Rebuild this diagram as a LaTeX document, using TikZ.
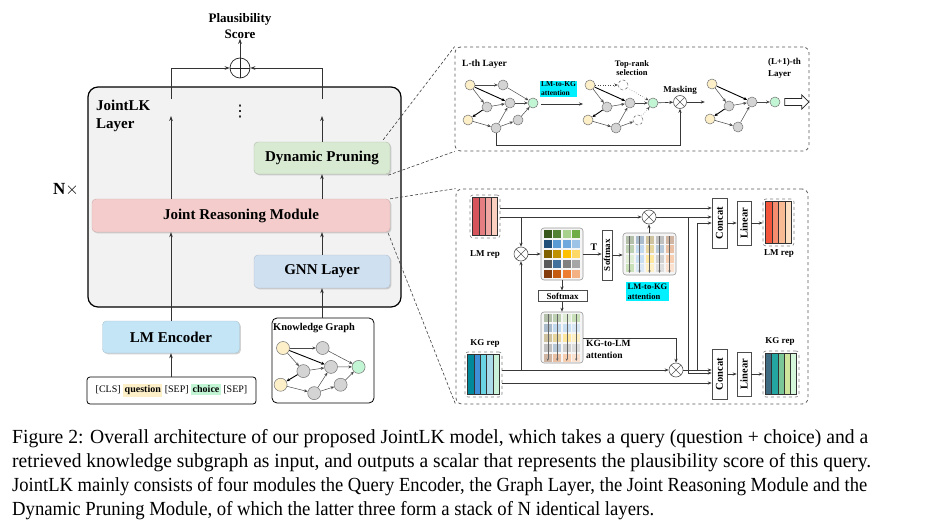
\documentclass[tikz,border=0pt]{standalone}
\usepackage{graphicx}
\usepackage{fontspec}
\setmainfont{Liberation Serif}
\newfontfamily\dejavu{DejaVu Sans}
\usetikzlibrary{arrows.meta,shadows,shapes.arrows}
\definecolor{layerbg}{HTML}{F2F2F2}
\definecolor{dpcol}{HTML}{D9EAD3}
\definecolor{jrmcol}{HTML}{F4CCCC}
\definecolor{gnncol}{HTML}{CFE0F1}
\definecolor{lmecol}{HTML}{C4E5F6}
\definecolor{ycol}{HTML}{FDEFC8}
\definecolor{gcol}{HTML}{C2F5D3}
\definecolor{hlcyan}{HTML}{00F0FF}
\definecolor{m11}{HTML}{38571A}\definecolor{m12}{HTML}{548235}\definecolor{m13}{HTML}{A9D18E}\definecolor{m14}{HTML}{70AD47}
\definecolor{m21}{HTML}{1F4E79}\definecolor{m22}{HTML}{5B9BD5}\definecolor{m23}{HTML}{6FA8DC}\definecolor{m24}{HTML}{9DC3E6}
\definecolor{m31}{HTML}{7F6000}\definecolor{m32}{HTML}{BF9000}\definecolor{m33}{HTML}{FFC000}\definecolor{m34}{HTML}{FFD966}
\definecolor{m41}{HTML}{595959}\definecolor{m42}{HTML}{41719C}\definecolor{m43}{HTML}{808080}\definecolor{m44}{HTML}{A6A6A6}
\definecolor{m51}{HTML}{843C0C}\definecolor{m52}{HTML}{C55A11}\definecolor{m53}{HTML}{ED7D31}\definecolor{m54}{HTML}{F4B183}
\definecolor{la1}{HTML}{D6545C}\definecolor{la2}{HTML}{E47E80}\definecolor{la3}{HTML}{F0A6A3}\definecolor{la4}{HTML}{FBCFC0}
\definecolor{lb1}{HTML}{F4563C}\definecolor{lb2}{HTML}{F68D6E}\definecolor{lb3}{HTML}{F9BB93}\definecolor{lb4}{HTML}{FDE0C2}
\definecolor{ka1}{HTML}{00899A}\definecolor{ka2}{HTML}{3F8FD6}\definecolor{ka3}{HTML}{6BD4E2}\definecolor{ka4}{HTML}{A9DCE8}\definecolor{ka5}{HTML}{C9F2D8}
\definecolor{kb1}{HTML}{3E6B82}\definecolor{kb2}{HTML}{23A5A2}\definecolor{kb3}{HTML}{7BC696}\definecolor{kb4}{HTML}{CFE59C}\definecolor{kb5}{HTML}{D4F7DA}
\newcommand{\capfont}{\fontsize{20}{24}\selectfont}
\tikzset{
  arr/.style={draw=black!80, line width=0.7pt, -{Stealth[length=5pt,width=3.6pt]}},
  sarr/.style={draw=black!78, line width=0.6pt, -{Stealth[length=4pt,width=3.2pt]}},
  marr/.style={draw=black!60, line width=0.45pt, -{Stealth[length=2.6pt,width=2.2pt]}},
  mbox/.style={rounded corners=4pt, inner sep=0pt, font=\bfseries\fontsize{15}{18}\selectfont,
    drop shadow={shadow xshift=1.3pt, shadow yshift=-1.3pt, opacity=0.35}},
  sbox/.style={draw=black!70, fill=white, line width=0.6pt, inner sep=0pt, font=\bfseries\fontsize{10}{12}\selectfont},
  repo/.style={draw=black!50, dashed, rounded corners=3pt, line width=0.6pt, inner sep=0pt},
  bar/.style={draw=black!80, line width=0.5pt},
  dcon/.style={draw=black!75, line width=0.6pt, dash pattern=on 3pt off 2pt},
  gn/.style={circle, draw=black!55, fill=black!17, minimum size=10pt, inner sep=0pt, line width=0.5pt},
  yn/.style={gn, fill=ycol},
  cn/.style={gn, fill=gcol},
  pn/.style={gn, fill=white, densely dashed},
  ge/.style={draw=black!72, line width=0.5pt, -{Stealth[length=3.5pt,width=3pt]}},
  geb/.style={ge, draw=black, line width=0.9pt},
  ox/.style={circle, draw=black!65, fill=white, minimum size=14pt, inner sep=0pt, line width=0.6pt,
    path picture={\draw[black!65, line width=0.6pt] (path picture bounding box.north west) -- (path picture bounding box.south east)
      (path picture bounding box.north east) -- (path picture bounding box.south west);}},
  oplus/.style={circle, draw=black!85, fill=white, minimum size=20pt, inner sep=0pt, line width=0.7pt,
    path picture={\draw[black!85, line width=0.7pt] (path picture bounding box.north) -- (path picture bounding box.south)
      (path picture bounding box.east) -- (path picture bounding box.west);}},
  mat/.style={draw=black!40, fill=black!4, rounded corners=3pt, line width=0.6pt, inner sep=0pt},
  hl/.style={fill=hlcyan, inner sep=1.2pt, align=left}
}
\newcommand{\coregraph}[1]{%
  \node[yn] (#1y1) at (0,0) {};
  \node[gn] (#1g2) at (17,22) {};
  \node[gn] (#1g3) at (40,18) {};
  \node[cn] (#1c) at (63,18) {};
  \node[yn] (#1y2) at (-2,35) {};
  \node[gn] (#1g4) at (26,43) {};
  \draw[ge] (#1y1) -- (#1g2);
  \draw[geb] (#1y1) -- (#1g3);
  \draw[ge] (#1g2) -- (#1g3);
  \draw[ge] (#1g3) -- (#1c);
  \draw[geb] (#1g2) -- (#1y2);
  \draw[ge] (#1y2) -- (#1g4);
  \draw[ge] (#1g4) -- (#1g3);
}
\begin{document}
\begin{tikzpicture}[x=1pt,y=-1pt]
\fill[white] (0,0) rectangle (931,527);
\useasboundingbox (0,0) rectangle (931,527);

% ================= left part =================
\node[draw=black, fill=layerbg, rounded corners=10pt, line width=1.2pt, minimum width=313, minimum height=220, inner sep=0] (layer) at (244.5,197) {};
\node[anchor=north west, align=left, inner sep=0, font=\bfseries\fontsize{15}{18}\selectfont] (ltitle) at (96,100) {JointLK\\Layer};
\node[inner sep=0, font=\dejavu\fontsize{16}{18}\selectfont] (vd) at (240,112) {⋮};
\node[font=\bfseries\fontsize{17}{20}\selectfont] (nx) at (66,190) {N$\times$};

\node[mbox, fill=dpcol, draw=dpcol!80!black, minimum width=136, minimum height=32] (dp) at (322,158) {Dynamic Pruning};
\node[mbox, fill=jrmcol, draw=jrmcol!85!black, minimum width=298, minimum height=33] (jrm) at (241,215.5) {Joint Reasoning Module};
\node[mbox, fill=gnncol, draw=gnncol!85!black, minimum width=136, minimum height=33] (gnn) at (322,271.5) {GNN Layer};
\node[mbox, fill=lmecol, draw=lmecol!85!black, minimum width=137, minimum height=32] (lme) at (171,337) {LM Encoder};
\node[draw=black, rounded corners=3pt, line width=0.8pt, fill=white, minimum width=169, minimum height=27, inner sep=0, font=\fontsize{10}{12}\selectfont] (inp) at (171.5,390.5)
  {[CLS] {\setlength\fboxsep{1.5pt}\colorbox{ycol}{\bfseries question}} [SEP] {\setlength\fboxsep{1.5pt}\colorbox{gcol}{\bfseries choice}} [SEP]};
\node[draw=black, rounded corners=5pt, line width=0.8pt, fill=white, minimum width=102, minimum height=85, inner sep=0] (kg) at (323,360.5) {};
\node[anchor=west, inner sep=0, font=\bfseries\fontsize{10.4}{12}\selectfont] (kgt) at (273,328) {Knowledge Graph};
\begin{scope}[shift={(283,348)}, xscale=1.2, yscale=1.05, gn/.append style={minimum size=13pt}]
  \coregraph{k}
  \node[gn] (kg1) at (33,0) {};
  \node[gn] (kg5) at (48,35) {};
  \draw[ge] (ky1) -- (kg1); \draw[ge] (kg1) -- (kc); \draw[ge] (kg4) -- (kg5); \draw[ge] (kg5) -- (kc);
\end{scope}

\node[font=\bfseries\fontsize{13}{16}\selectfont, align=center, inner sep=0] (ps) at (240,26) {Plausibility\\Score};
\node[oplus] (plus) at (240,68) {};
\coordinate (lt) at (171,99);
\coordinate (rt) at (322,99);
\coordinate (la) at (171,116);
\coordinate (ra) at (322,116);
\draw[arr] (plus.north) -- (ps.south);
\draw[arr] (lt) |- (plus.west);
\draw[arr] (rt) |- (plus.east);
\draw[arr] (inp.north -| lme) -- (lme.south);
\draw[arr] (lme.north) -- (lme.north |- jrm.south);
\draw[arr] (jrm.north -| la) -- (la);
\draw[arr] (kg.north -| gnn) -- (gnn.south);
\draw[arr] (gnn.north) -- (gnn.north |- jrm.south);
\draw[arr] (jrm.north -| dp) -- (dp.south);
\draw[arr] (dp.north) -- (ra);

% ================= panels =================
\node[draw=black!65, dashed, rounded corners=6pt, line width=0.8pt, minimum width=354, minimum height=104, inner sep=0] (tp) at (632,99) {};
\node[draw=black!65, dashed, rounded corners=6pt, line width=0.8pt, minimum width=352, minimum height=215, inner sep=0] (bp) at (632,296.5) {};
\draw[dcon] ([shift={(-7,-2)}]dp.north east) -- (tp.north west);
\draw[dcon] ([shift={(-2,1)}]dp.south east) -- (tp.south west);
\draw[dcon] (jrm.north east) -- (bp.north west);
\draw[dcon] ([shift={(-2,1)}]jrm.south east) -- (bp.south west);

% ================= top panel =================
\node[anchor=west, inner sep=0, font=\bfseries\fontsize{9.5}{11}\selectfont] (lth) at (462,64) {L-th Layer};
\begin{scope}[shift={(470,85)}]
  \coregraph{a}
  \node[gn] (ag1) at (33,0) {};
  \node[gn] (ag5) at (48,35) {};
  \draw[ge] (ay1) -- (ag1); \draw[ge] (ag1) -- (ac); \draw[ge] (ag4) -- (ag5); \draw[ge] (ag5) -- (ac);
\end{scope}
\node[hl, font=\bfseries\fontsize{7.5}{9}\selectfont] (lkatt) at (558.5,89) {LM-to-KG\\attention};
\coordinate (t1s) at (541,104);
\coordinate (t1e) at (583,104);
\draw[sarr] (t1s) -- (t1e);
\begin{scope}[shift={(590,85)}]
  \coregraph{b}
  \node[pn] (bg1) at (33,0) {};
  \node[pn] (bg5) at (48,35) {};
  \draw[ge, dotted] (by1) -- (bg1); \draw[ge, dotted] (bg1) -- (bc); \draw[ge] (bg4) -- (bg5); \draw[ge, dotted] (bg5) -- (bc);
\end{scope}
\node[align=center, inner sep=0, font=\bfseries\fontsize{8.5}{9.5}\selectfont] (topr) at (632,68) {Top-rank\\selection};
\node[inner sep=0, font=\bfseries\fontsize{9}{11}\selectfont] (mask) at (680,90) {Masking};
\node[ox, minimum size=13pt] (oxT) at (680,102) {};
\begin{scope}[shift={(712,84)}]
  \coregraph{c}
\end{scope}
\draw[sarr] (bc) -- (oxT);
\draw[sarr] (oxT.east) -- (cy2.west |- oxT);
\draw[sarr] (ag4.south) -- ++(0,12) -| (oxT.south);
\node[anchor=north west, align=left, inner sep=0, font=\bfseries\fontsize{9}{12}\selectfont] (lp1) at (768,58) {(L+1)-th\\Layer};
\node[single arrow, draw=black!85, fill=white, minimum height=24pt, text height=3.2pt, text depth=3.2pt, text width=0pt, single arrow head extend=3.5pt, inner sep=0pt, line width=0.7pt] (hol) at (795,102) {};

% ================= bottom panel =================
\node[repo, minimum width=30, minimum height=43] (lmL) at (485,216.5) {};
\foreach \c [count=\i] in {la1,la2,la3,la4} \filldraw[bar, fill=\c] ({472.5+6.25*(\i-1)},197.5) rectangle ++(6.25,38);
\node[inner sep=0, font=\bfseries\fontsize{9}{11}\selectfont] (lmLt) at (485,255) {LM rep};
\node[repo, minimum width=31, minimum height=47] (lmR) at (778.5,222.5) {};
\foreach \c [count=\i] in {lb1,lb2,lb3,lb4} \filldraw[bar, fill=\c] ({765.5+6.5*(\i-1)},201.5) rectangle ++(6.5,42);
\node[inner sep=0, font=\bfseries\fontsize{9}{11}\selectfont] (lmRt) at (779,254) {LM rep};
\node[repo, minimum width=37, minimum height=45] (kgL) at (483.5,374.5) {};
\foreach \c [count=\i] in {ka1,ka2,ka3,ka4,ka5} \filldraw[bar, fill=\c] ({467.5+6.4*(\i-1)},354.5) rectangle ++(6.4,40);
\node[inner sep=0, font=\bfseries\fontsize{9}{11}\selectfont] (kgLt) at (485,343) {KG rep};
\node[repo, minimum width=36, minimum height=46] (kgR) at (781,374) {};
\foreach \c [count=\i] in {kb1,kb2,kb3,kb4,kb5} \filldraw[bar, fill=\c] ({765.5+6.2*(\i-1)},353.5) rectangle ++(6.2,41);
\node[inner sep=0, font=\bfseries\fontsize{9}{11}\selectfont] (kgRt) at (780,341) {KG rep};

\node[mat, minimum width=42, minimum height=52] (mt) at (562,254) {};
\foreach \ii in {1,...,5} \foreach \jj in {1,...,4}
  \fill[m\ii\jj] ({562+(\jj-2.5)*9.5-4},{254+(\ii-3)*10-4}) rectangle ++(8,8);
\node[mat, minimum width=53, minimum height=42] (attLK) at (649.5,254) {};
\foreach \ii in {1,...,5} \foreach \jj in {1,...,4}
  \fill[m\ii\jj!38] ({649.5+(\ii-3)*10-4},{254+(\jj-2.5)*9.5-4}) rectangle ++(8,8);
\foreach \ii in {1,...,5} \draw[marr] ({649.5+(\ii-3)*10},236) -- ({649.5+(\ii-3)*10},273);
\node[mat, minimum width=42, minimum height=51] (attKL) at (562,337.5) {};
\foreach \ii in {1,...,5} \foreach \jj in {1,...,4}
  \fill[m\ii\jj!38] ({562+(\jj-2.5)*9.5-4},{337.5+(\ii-3)*10-4}) rectangle ++(8,8);
\foreach \jj in {1,...,4} \draw[marr] ({562+(\jj-2.5)*9.5},314) -- ({562+(\jj-2.5)*9.5},361);

\node[sbox, minimum width=10, minimum height=50, font=\bfseries\fontsize{9}{10}\selectfont] (smV) at (607,255) {\rotatebox{90}{Softmax}};
\node[sbox, minimum width=49, minimum height=10.5, font=\bfseries\fontsize{9}{10}\selectfont] (smH) at (562.5,296) {Softmax};
\node[inner sep=0, font=\bfseries\fontsize{10}{12}\selectfont] (tl) at (594,247) {T};
\node[hl, font=\bfseries\fontsize{8.5}{10.5}\selectfont] (lab1) at (647.5,291.5) {LM-to-KG\\attention};
\node[anchor=west, align=left, inner sep=0, font=\bfseries\fontsize{9.5}{12}\selectfont] (lab2) at (586,349) {KG-to-LM\\attention};

\node[ox] (ox1) at (521,254) {};
\node[ox] (oxL) at (649,217) {};
\node[ox] (oxK) at (676,370) {};

\node[sbox, minimum width=15, minimum height=50, font=\bfseries\fontsize{10.5}{12}\selectfont] (cLM) at (719.5,223) {\rotatebox{90}{Concat}};
\node[sbox, minimum width=14, minimum height=44, font=\bfseries\fontsize{10.5}{12}\selectfont] (linLM) at (744,223) {\rotatebox{90}{Linear}};
\node[sbox, minimum width=15, minimum height=50, font=\bfseries\fontsize{10.5}{12}\selectfont] (cKG) at (719.5,374) {\rotatebox{90}{Concat}};
\node[sbox, minimum width=14, minimum height=44, font=\bfseries\fontsize{10.5}{12}\selectfont] (linKG) at (744,374) {\rotatebox{90}{Linear}};

\coordinate (j1) at (688,217);
\coordinate (j2) at (697,370);
\draw[sarr] (lmL.east |- 0,208) -- (cLM.west |- 0,208);
\draw[sarr] (lmL.east |- 0,217) -- (oxL.west);
\draw[sarr] (oxL.east) -- (cLM.west |- 0,217);
\draw[sarr] (ox1 |- 0,217) -- (ox1.north);
\draw[sarr] (ox1.east) -- (mt.west |- ox1);
\draw[sarr] (kgL.east |- 0,370) -- (oxK.west);
\draw[sarr] (ox1 |- 0,370) -- (ox1.south);
\draw[sarr] (kgL.east |- 0,383) -- (cKG.west |- 0,383);
\draw[sarr] (oxK.east) -- (cKG.west |- 0,370);
\draw[sarr] (j1) |- (cKG.west |- 0,373);
\draw[sarr] (j2) |- (cLM.west |- 0,223);
\draw[sarr] (mt.east) -- (smV.west |- mt.east);
\draw[sarr] (smV.east) -- (attLK.west |- smV.east);
\draw[sarr] (attLK.north -| oxL) -- (oxL.south);
\draw[sarr] (mt.south) -- (mt.south |- smH.north);
\draw[sarr] (smH.south -| attKL) -- (attKL.north);
\draw[sarr] (attKL.east |- 0,338) -| (oxK.north);
\draw[sarr] (cLM.east) -- (linLM.west);
\draw[sarr] (linLM.east) -- (lmR.west |- linLM.east);
\draw[sarr] (cKG.east) -- (linKG.west);
\draw[sarr] (linKG.east) -- (kgR.west |- linKG.east);

% ================= caption =================
\node[anchor=base west, inner sep=0] (cap1) at (12,443) {\resizebox{856pt}{\height}{\capfont Figure 2: Overall architecture of our proposed JointLK model, which takes a query (question + choice) and a}};
\node[anchor=base west, inner sep=0] (cap2) at (12,467) {\resizebox{859pt}{\height}{\capfont retrieved knowledge subgraph as input, and outputs a scalar that represents the plausibility score of this query.}};
\node[anchor=base west, inner sep=0] (cap3) at (12,491) {\resizebox{855pt}{\height}{\capfont JointLK mainly consists of four modules the Query Encoder, the Graph Layer, the Joint Reasoning Module and the}};
\node[anchor=base west, inner sep=0] (cap4) at (12,515) {\resizebox{642pt}{\height}{\capfont Dynamic Pruning Module, of which the latter three form a stack of N identical layers.}};
\end{tikzpicture}
\end{document}
